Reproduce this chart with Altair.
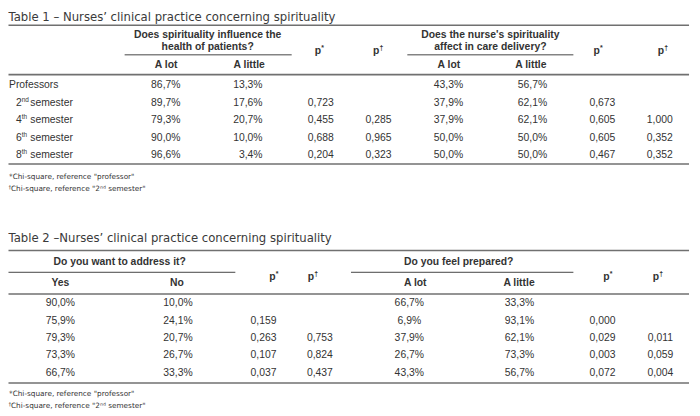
import altair as alt
import pandas as pd

# ------------------------------------------------------------------ data
title_1 = "Table 1 – Nurses’ clinical practice concerning spirituality"
title_2 = "Table 2 –Nurses’ clinical practice concerning spirituality"

row_first = "Professors"
sem_num = ["2", "4", "6", "8"]
sem_sup = ["nd", "th", "th", "th"]
sem_word = "semester"

t1_group_a = ["Does spirituality influence the", "health of patients?"]
t1_group_b = ["Does the nurse's spirituality", "affect in care delivery?"]
t1_sub = ["A lot", "A little"]
p_labels = ["p", "p"]
p_marks = ["*", "†"]

t1_spirit_lot = ["86,7%", "89,7%", "79,3%", "90,0%", "96,6%"]
t1_spirit_little = ["13,3%", "17,6%", "20,7%", "10,0%", "3,4%"]
t1_p1_star = ["", "0,723", "0,455", "0,688", "0,204"]
t1_p1_dagger = ["", "", "0,285", "0,965", "0,323"]
t1_care_lot = ["43,3%", "37,9%", "37,9%", "50,0%", "50,0%"]
t1_care_little = ["56,7%", "62,1%", "62,1%", "50,0%", "50,0%"]
t1_p2_star = ["", "0,673", "0,605", "0,605", "0,467"]
t1_p2_dagger = ["", "", "1,000", "0,352", "0,352"]

t2_group_a = "Do you want to address it?"
t2_group_b = "Do you feel prepared?"
t2_sub_a = ["Yes", "No"]
t2_sub_b = ["A lot", "A little"]

t2_yes = ["90,0%", "75,9%", "79,3%", "73,3%", "66,7%"]
t2_no = ["10,0%", "24,1%", "20,7%", "26,7%", "33,3%"]
t2_p1_star = ["", "0,159", "0,263", "0,107", "0,037"]
t2_p1_dagger = ["", "", "0,753", "0,824", "0,437"]
t2_lot = ["66,7%", "6,9%", "37,9%", "26,7%", "43,3%"]
t2_little = ["33,3%", "93,1%", "62,1%", "73,3%", "56,7%"]
t2_p2_star = ["", "0,000", "0,029", "0,003", "0,072"]
t2_p2_dagger = ["", "", "0,011", "0,059", "0,004"]

foot_1 = "*Chi-square, reference \"professor\""
foot_2_mark = "†"
foot_2 = "Chi-square, reference \"2ⁿᵈ semester\""

# ------------------------------------------------------------------ layout
W, H = 700, 416
XL, XR = 8.5, 697
T1_ROWS = [84, 101.6, 119.2, 136.8, 154.4]
T2_ROWS = [304.5, 322, 339.5, 357, 374.5]

xs = alt.Scale(domain=[0, W], nice=False, zero=False)
ys = alt.Scale(domain=[0, H], nice=False, zero=False, reverse=True)

BODY = "Liberation Sans"
VERD = "DejaVu Sans"
INK = "#333333"


def txt(rows, **mark):
    df = pd.DataFrame(rows, columns=["x", "y", "t"])
    df = df[df["t"] != ""]
    return alt.Chart(df).mark_text(baseline="middle", **mark).encode(
        x=alt.X("x:Q", scale=xs, axis=None),
        y=alt.Y("y:Q", scale=ys, axis=None),
        text="t:N",
    )


def rules(rows, color, width):
    df = pd.DataFrame(rows, columns=["x", "x2", "y"])
    return alt.Chart(df).mark_rule(color=color, strokeWidth=width).encode(
        x=alt.X("x:Q", scale=xs, axis=None),
        x2="x2:Q",
        y=alt.Y("y:Q", scale=ys, axis=None),
    )


layers = []

# titles
layers.append(txt([(8.5, 14.5, title_1), (8.5, 238.5, title_2)],
                  align="left", font=VERD, fontSize=11.8, color="#3a3a3a"))

# rules
layers.append(rules([(XL, XR, 23), (XL, XR, 73), (XL, XR, 163.5),
                     (XL, XR, 251), (XL, XR, 295), (XL, XR, 385)], "#707070", 1.6))
layers.append(rules([(126, 295, 53), (412, 580, 53),
                     (XL, 238, 273), (355, 580, 273)], "#444444", 1))

# headers (bold, centered)
hdr = [
    (210, 33, t1_group_a[0]), (210, 45.5, t1_group_a[1]),
    (496, 33, t1_group_b[0]), (496, 45.5, t1_group_b[1]),
    (168, 63, t1_sub[0]), (252, 63, t1_sub[1]),
    (454, 63, t1_sub[0]), (537, 63, t1_sub[1]),
    (121, 262.5, t2_group_a), (464, 262.5, t2_group_b),
    (61, 284, t2_sub_a[0]), (179, 284, t2_sub_a[1]),
    (420, 284, t2_sub_b[0]), (525, 284, t2_sub_b[1]),
]
layers.append(txt(hdr, align="center", font=BODY, fontSize=10.5,
                  fontWeight="bold", color=INK))

# p headers
p_pos = [(323, 49.5, 0), (382, 49.5, 1), (605, 49.5, 0), (670, 49.5, 1),
         (277, 278, 0), (316, 278, 1), (615, 278, 0), (665, 278, 1)]
layers.append(txt([(x - 1.5, y, p_labels[k]) for x, y, k in p_pos],
                  align="center", font=BODY, fontSize=10.5, fontWeight="bold", color=INK))
layers.append(txt([(x + 1.8, y, p_marks[k]) for x, y, k in p_pos],
                  align="left", font=BODY, fontSize=7, fontWeight="bold", color=INK, dy=-3))

# row labels table 1
labels = [(9, T1_ROWS[0], row_first)]
labels += [(16, T1_ROWS[i + 1], sem_num[i]) for i in range(4)]
labels += [(30.5, T1_ROWS[i + 1], sem_word) for i in range(4)]
layers.append(txt(labels, align="left", font=BODY, fontSize=10.5, color=INK))
layers.append(txt([(21.9, T1_ROWS[i + 1], sem_sup[i]) for i in range(4)],
                  align="left", font=BODY, fontSize=6.5, color=INK, dy=-3))

# table 1 body (right aligned)
t1_cols = [(t1_spirit_lot, 182.5), (t1_spirit_little, 265.5), (t1_p1_star, 337.5),
           (t1_p1_dagger, 396), (t1_care_lot, 468.5), (t1_care_little, 553.5),
           (t1_p2_star, 622.5), (t1_p2_dagger, 680.5)]
body1 = [(x, T1_ROWS[i], v) for vals, x in t1_cols for i, v in enumerate(vals)]
layers.append(txt(body1, align="right", font=BODY, fontSize=10.5, color=INK))

# table 2 body (centered)
t2_cols = [(t2_yes, 61), (t2_no, 180), (t2_p1_star, 266.5), (t2_p1_dagger, 323.5),
           (t2_lot, 414), (t2_little, 525.5), (t2_p2_star, 609.5), (t2_p2_dagger, 668)]
body2 = [(x, T2_ROWS[i], v) for vals, x in t2_cols for i, v in enumerate(vals)]
layers.append(txt(body2, align="center", font=BODY, fontSize=10.5, color=INK))

# footnotes
layers.append(txt([(9, 177, foot_1), (11, 189, foot_2),
                   (9, 396.5, foot_1), (11, 408.5, foot_2)],
                  align="left", font=VERD, fontSize=7.4, color=INK))
layers.append(txt([(8.5, 189, foot_2_mark), (8.5, 408.5, foot_2_mark)],
                  align="left", font=VERD, fontSize=5.5, color=INK, dy=-2))

chart = alt.layer(*layers).properties(
    width=W, height=H,
    padding={"left": -8, "top": -8, "right": 0, "bottom": 0},
    autosize=alt.AutoSizeParams(type="none"),
    background="white",
).configure_view(strokeWidth=0)

chart.save("out.html", embed_options={"renderer": "svg", "actions": False})
